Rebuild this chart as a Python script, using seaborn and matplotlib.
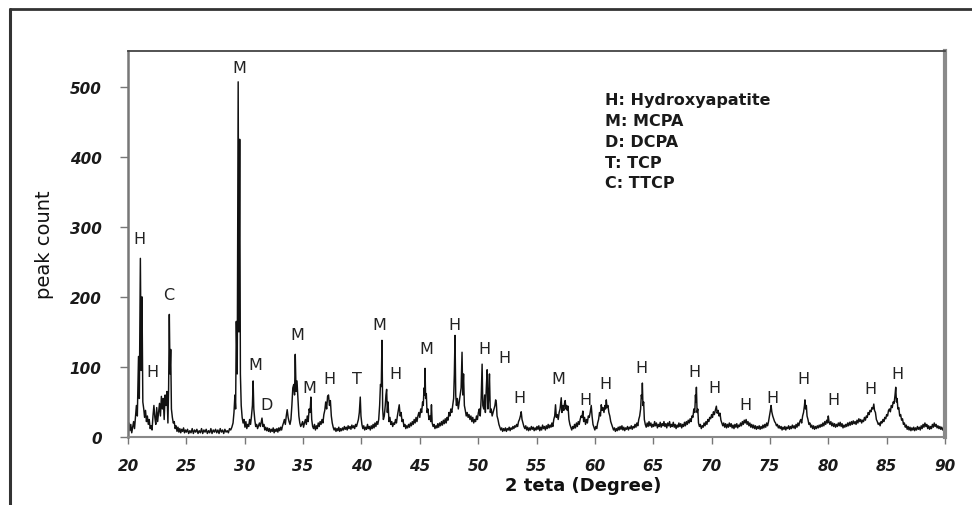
import numpy as np
import pandas as pd
import matplotlib
matplotlib.use("Agg")
import matplotlib.pyplot as plt
import seaborn as sns
from matplotlib.lines import Line2D

# ---------------- data (2-theta, peak count) ----------------
seg_20_25 = [(20.00,12),(20.08,20),(20.16,9),(20.24,18),(20.32,6),(20.40,14),(20.48,22),(20.56,12),(20.64,28),(20.72,45),
             (20.80,30),(20.90,115),(20.97,55),(21.06,255),(21.13,95),(21.20,200),(21.27,50),(21.35,40),(21.42,28),(21.50,38),
             (21.58,22),(21.66,30),(21.74,18),(21.82,25),(21.90,12),(21.98,16),(22.06,10),(22.14,30),(22.22,45),(22.30,28),
             (22.38,18),(22.46,42),(22.54,22),(22.62,35),(22.70,48),(22.78,30),(22.86,58),(22.94,40),(23.02,55),(23.10,25),
             (23.18,60),(23.26,45),(23.34,65),(23.42,20),(23.48,70),(23.54,175),(23.60,90),(23.66,125),(23.72,40),(23.80,28),
             (23.88,20),(23.96,22),(24.04,12),(24.12,16),(24.20,8),(24.28,14),(24.36,7),(24.44,12),(24.52,6),(24.60,11),
             (24.68,8),(24.76,13),(24.84,6),(24.92,10)]
seg_25_30 = [(25.00,7),(25.10,11),(25.20,5),(25.30,9),(25.40,6),(25.50,12),(25.60,5),(25.70,10),(25.80,7),(25.90,11),
             (26.00,5),(26.10,9),(26.20,6),(26.30,12),(26.40,5),(26.50,10),(26.60,7),(26.70,11),(26.80,5),(26.90,9),
             (27.00,6),(27.10,12),(27.20,5),(27.30,10),(27.40,7),(27.50,11),(27.60,6),(27.70,10),(27.80,5),(27.90,12),
             (28.00,7),(28.10,10),(28.20,5),(28.30,11),(28.40,7),(28.50,9),(28.60,6),(28.70,12),(28.80,10),(28.90,14),
             (29.00,20),(29.08,35),(29.16,60),(29.22,40),(29.28,165),(29.36,90),(29.44,507),(29.50,150),(29.57,425),(29.63,90),
             (29.70,45),(29.78,28),(29.86,20),(29.94,25)]
seg_30_35 = [(30.02,14),(30.10,22),(30.18,12),(30.26,18),(30.34,15),(30.42,25),(30.50,18),(30.58,30),(30.66,45),(30.72,80),
             (30.78,40),(30.86,25),(30.94,15),(31.02,18),(31.10,12),(31.18,16),(31.26,20),(31.34,15),(31.42,22),(31.48,27),
             (31.56,15),(31.64,18),(31.72,10),(31.80,14),(31.88,9),(31.96,13),(32.04,8),(32.12,12),(32.20,7),(32.28,11),
             (32.36,8),(32.44,13),(32.52,6),(32.60,11),(32.68,8),(32.76,12),(32.84,7),(32.92,13),(33.00,9),(33.08,14),
             (33.16,10),(33.24,16),(33.32,20),(33.40,25),(33.48,18),(33.56,30),(33.64,39),(33.72,28),(33.80,22),(33.88,18),
             (33.96,25),(34.04,45),(34.12,70),(34.20,75),(34.27,60),(34.33,118),(34.40,65),(34.48,80),(34.56,55),(34.64,30),
             (34.72,20),(34.80,15),(34.88,18),(34.96,22)]
seg_35_40 = [(35.04,14),(35.12,20),(35.20,25),(35.28,18),(35.36,30),(35.44,22),(35.52,40),(35.60,35),(35.67,57),(35.74,25),
             (35.82,15),(35.90,12),(35.98,18),(36.06,10),(36.14,16),(36.22,12),(36.30,20),(36.38,15),(36.46,22),(36.54,18),
             (36.62,25),(36.70,20),(36.78,32),(36.86,38),(36.94,50),(37.02,40),(37.10,58),(37.18,60),(37.26,45),(37.34,52),
             (37.42,30),(37.50,20),(37.58,14),(37.66,10),(37.74,13),(37.82,8),(37.90,12),(37.98,9),(38.06,14),(38.14,8),
             (38.22,12),(38.30,9),(38.38,13),(38.46,10),(38.54,15),(38.62,11),(38.70,14),(38.78,10),(38.86,16),(38.94,12),
             (39.02,15),(39.10,11),(39.18,17),(39.26,13),(39.34,16),(39.42,12),(39.50,18),(39.58,15),(39.66,20),(39.74,25),
             (39.82,35),(39.90,57),(39.96,30),(40.04,18)]
seg_40_45 = [(40.12,12),(40.20,16),(40.28,10),(40.36,14),(40.44,11),(40.52,18),(40.60,12),(40.68,15),(40.76,10),(40.84,16),
             (40.92,12),(41.00,18),(41.08,13),(41.16,20),(41.24,15),(41.32,22),(41.40,18),(41.48,25),(41.56,45),(41.63,75),
             (41.70,72),(41.76,138),(41.82,40),(41.88,25),(41.96,30),(42.04,45),(42.10,60),(42.16,68),(42.22,35),(42.28,50),
             (42.36,22),(42.44,28),(42.52,18),(42.60,22),(42.68,15),(42.76,20),(42.84,18),(42.92,25),(43.00,20),(43.08,30),
             (43.16,38),(43.24,46),(43.32,30),(43.40,35),(43.48,22),(43.56,25),(43.64,15),(43.72,18),(43.80,12),(43.88,16),
             (43.96,13),(44.04,18),(44.12,14),(44.20,20),(44.28,16),(44.36,22),(44.44,18),(44.52,25),(44.60,20),(44.68,28),
             (44.76,22),(44.84,30),(44.92,35)]
seg_45_50 = [(45.00,28),(45.08,40),(45.16,35),(45.24,50),(45.30,45),(45.36,70),(45.41,60),(45.45,98),(45.50,55),(45.56,62),
             (45.62,35),(45.70,40),(45.78,25),(45.86,30),(45.94,22),(46.00,46),(46.06,20),(46.14,15),(46.22,18),(46.30,12),
             (46.38,16),(46.46,13),(46.54,19),(46.62,14),(46.70,20),(46.78,16),(46.86,22),(46.94,17),(47.02,24),(47.10,19),
             (47.18,26),(47.26,20),(47.34,28),(47.42,24),(47.50,35),(47.58,30),(47.66,40),(47.74,35),(47.82,45),(47.90,55),
             (47.96,90),(48.02,145),(48.08,60),(48.14,45),(48.22,55),(48.30,40),(48.38,50),(48.46,60),(48.54,70),(48.62,121),
             (48.68,60),(48.75,90),(48.82,45),(48.90,38),(48.98,30),(49.06,35),(49.14,28),(49.22,32),(49.30,25),(49.38,30),
             (49.46,22),(49.54,28),(49.62,20),(49.70,25),(49.78,22),(49.86,30),(49.94,25)]
seg_50_55 = [(50.02,35),(50.10,40),(50.18,30),(50.26,55),(50.34,104),(50.40,45),(50.48,40),(50.56,60),(50.62,35),(50.70,70),
             (50.77,96),(50.84,40),(50.90,55),(50.97,90),(51.04,35),(51.12,40),(51.20,30),(51.28,35),(51.36,40),(51.44,45),
             (51.50,53),(51.56,48),(51.62,30),(51.70,25),(51.78,18),(51.86,14),(51.94,10),(52.02,13),(52.10,8),(52.18,12),
             (52.26,9),(52.34,13),(52.42,8),(52.50,12),(52.58,10),(52.66,14),(52.74,9),(52.82,13),(52.90,11),(52.98,15),
             (53.06,12),(53.14,16),(53.22,14),(53.30,18),(53.38,15),(53.46,22),(53.54,25),(53.62,30),(53.69,36),(53.76,25),
             (53.84,20),(53.92,15),(54.00,12),(54.08,16),(54.16,10),(54.24,14),(54.32,9),(54.40,13),(54.48,10),(54.56,15),
             (54.64,11),(54.72,14),(54.80,9),(54.88,13),(54.96,10)]
seg_55_60 = [(55.04,15),(55.12,11),(55.20,16),(55.28,9),(55.36,14),(55.44,10),(55.52,17),(55.60,12),(55.68,15),(55.76,10),
             (55.84,16),(55.92,12),(56.00,18),(56.08,13),(56.16,17),(56.24,14),(56.32,20),(56.40,15),(56.48,25),(56.56,30),
             (56.63,46),(56.70,28),(56.78,32),(56.86,25),(56.94,35),(57.02,40),(57.08,50),(57.12,56),(57.18,35),(57.26,45),
             (57.34,38),(57.40,48),(57.46,52),(57.52,40),(57.58,45),(57.64,38),(57.70,44),(57.78,25),(57.86,18),(57.94,14),
             (58.02,10),(58.10,15),(58.18,12),(58.26,18),(58.34,13),(58.42,20),(58.50,15),(58.58,22),(58.66,18),(58.74,25),
             (58.82,30),(58.90,28),(58.97,37),(59.04,22),(59.12,28),(59.20,18),(59.28,25),(59.36,20),(59.44,30),(59.52,28),
             (59.60,35),(59.69,45),(59.76,30),(59.84,18),(59.92,14)]
seg_60_65 = [(60.00,10),(60.08,15),(60.16,12),(60.24,20),(60.32,25),(60.40,35),(60.48,30),(60.55,46),(60.62,38),(60.70,42),
             (60.78,35),(60.86,45),(60.92,40),(60.98,53),(61.04,42),(61.12,45),(61.20,35),(61.28,30),(61.36,22),(61.44,18),
             (61.52,14),(61.60,10),(61.68,13),(61.76,8),(61.84,12),(61.92,9),(62.00,14),(62.08,10),(62.16,15),(62.24,11),
             (62.32,16),(62.40,10),(62.48,14),(62.56,9),(62.64,13),(62.72,11),(62.80,15),(62.88,10),(62.96,14),(63.04,12),
             (63.12,16),(63.20,11),(63.28,15),(63.36,13),(63.44,18),(63.52,14),(63.60,20),(63.68,16),(63.76,25),(63.84,30),
             (63.92,40),(63.98,60),(64.04,55),(64.07,77),(64.12,45),(64.18,50),(64.24,25),(64.32,18),(64.40,14),(64.48,20),
             (64.56,15),(64.64,22),(64.72,16),(64.80,20),(64.88,14),(64.96,18)]
seg_65_70 = [(65.04,15),(65.12,22),(65.20,16),(65.28,20),(65.36,13),(65.44,18),(65.52,15),(65.60,21),(65.68,14),(65.76,19),
             (65.84,16),(65.92,22),(66.00,15),(66.08,19),(66.16,13),(66.24,20),(66.32,16),(66.40,22),(66.48,14),(66.56,18),
             (66.64,15),(66.72,21),(66.80,14),(66.88,18),(66.96,12),(67.04,17),(67.12,14),(67.20,20),(67.28,15),(67.36,19),
             (67.44,13),(67.52,18),(67.60,15),(67.68,21),(67.76,16),(67.84,22),(67.92,18),(68.00,24),(68.08,20),(68.16,26),
             (68.24,22),(68.32,30),(68.40,28),(68.48,40),(68.56,35),(68.62,60),(68.66,50),(68.70,71),(68.76,35),(68.82,40),
             (68.88,20),(68.96,15),(69.04,18),(69.12,12),(69.20,16),(69.28,14),(69.36,20),(69.44,16),(69.52,22),(69.60,18),
             (69.68,25),(69.76,22),(69.84,28),(69.92,26)]
seg_70_75 = [(70.00,32),(70.08,28),(70.16,36),(70.24,32),(70.32,38),(70.41,44),(70.48,34),(70.56,38),(70.64,30),(70.72,34),
             (70.80,24),(70.88,20),(70.96,16),(71.04,20),(71.12,14),(71.20,19),(71.28,13),(71.36,18),(71.44,14),(71.52,20),
             (71.60,15),(71.68,19),(71.76,13),(71.84,17),(71.92,12),(72.00,18),(72.08,14),(72.16,19),(72.24,13),(72.32,17),
             (72.40,15),(72.48,20),(72.56,16),(72.64,22),(72.72,18),(72.80,24),(72.88,20),(72.96,25),(73.04,18),(73.12,22),
             (73.20,16),(73.28,20),(73.36,14),(73.44,18),(73.52,13),(73.60,17),(73.68,12),(73.76,16),(73.84,11),(73.92,15),
             (74.00,12),(74.08,16),(74.16,11),(74.24,15),(74.32,12),(74.40,17),(74.48,13),(74.56,18),(74.64,14),(74.72,20),
             (74.80,16),(74.88,22),(74.96,30)]
seg_75_80 = [(75.04,38),(75.10,45),(75.16,36),(75.24,30),(75.32,26),(75.40,22),(75.48,20),(75.56,16),(75.64,18),(75.72,13),
             (75.80,16),(75.88,12),(75.96,15),(76.04,10),(76.12,14),(76.20,11),(76.28,15),(76.36,10),(76.44,14),(76.52,12),
             (76.60,16),(76.68,11),(76.76,15),(76.84,12),(76.92,17),(77.00,13),(77.08,16),(77.16,12),(77.24,18),(77.32,14),
             (77.40,20),(77.48,16),(77.56,22),(77.64,25),(77.72,20),(77.80,30),(77.88,35),(77.96,45),(78.00,53),(78.06,40),
             (78.12,45),(78.18,30),(78.26,25),(78.34,18),(78.42,20),(78.50,14),(78.58,17),(78.66,12),(78.74,16),(78.82,11),
             (78.90,15),(78.98,12),(79.06,16),(79.14,13),(79.22,17),(79.30,14),(79.38,18),(79.46,15),(79.54,20),(79.62,16),
             (79.70,22),(79.78,18),(79.86,24),(79.94,20)]
seg_80_85 = [(80.00,30),(80.06,22),(80.14,18),(80.22,22),(80.30,16),(80.38,20),(80.46,15),(80.54,19),(80.62,14),(80.70,18),
             (80.78,15),(80.86,20),(80.94,16),(81.02,21),(81.10,15),(81.18,19),(81.26,13),(81.34,17),(81.42,14),(81.50,18),
             (81.58,15),(81.66,20),(81.74,16),(81.82,21),(81.90,17),(81.98,22),(82.06,18),(82.14,23),(82.22,19),(82.30,22),
             (82.38,18),(82.46,24),(82.54,20),(82.62,26),(82.70,22),(82.78,25),(82.86,20),(82.94,24),(83.02,22),(83.10,28),
             (83.18,24),(83.26,30),(83.34,28),(83.42,35),(83.50,32),(83.58,38),(83.66,36),(83.74,42),(83.82,40),(83.90,47),
             (83.96,38),(84.04,35),(84.12,25),(84.20,22),(84.28,18),(84.36,20),(84.44,16),(84.52,22),(84.60,20),(84.68,25),
             (84.76,22),(84.84,28),(84.92,26)]
seg_85_90 = [(85.00,32),(85.08,30),(85.16,38),(85.24,40),(85.32,36),(85.40,45),(85.48,42),(85.56,50),(85.64,48),(85.72,60),
             (85.78,71),(85.84,50),(85.90,55),(85.96,40),(86.04,42),(86.12,30),(86.20,32),(86.28,24),(86.36,26),(86.44,18),
             (86.52,20),(86.60,14),(86.68,17),(86.76,11),(86.84,15),(86.92,10),(87.00,14),(87.08,9),(87.16,13),(87.24,10),
             (87.32,14),(87.40,9),(87.48,13),(87.56,10),(87.64,15),(87.72,11),(87.80,14),(87.88,10),(87.96,16),(88.04,12),
             (88.12,18),(88.20,14),(88.28,20),(88.36,15),(88.44,18),(88.52,12),(88.60,16),(88.68,11),(88.76,15),(88.84,12),
             (88.92,18),(89.00,14),(89.08,20),(89.16,15),(89.24,18),(89.32,13),(89.40,16),(89.48,12),(89.56,15),(89.64,11),
             (89.72,14),(89.80,10),(89.88,13),(89.96,11)]

# phase labels over peaks
peak_labels  = ["H", "H", "C", "M", "M", "D", "M", "M", "H", "T", "M", "H", "M", "H", "H",
                "H", "H", "M", "H", "H", "H", "H", "H", "H", "H", "H", "H", "H", "H"]
peak_label_x = [21.0, 22.1, 23.5, 29.5, 30.9, 31.9, 34.5, 35.5, 37.25, 39.65, 41.5, 42.9, 45.55, 47.95, 50.5,
                52.25, 53.55, 56.9, 59.2, 60.9, 64.0, 68.55, 70.25, 72.9, 75.25, 77.9, 80.4, 83.65, 85.9]
peak_label_y = [283, 93, 203, 527, 104, 47, 146, 70, 83, 83, 160, 90, 126, 161, 126,
                114, 57, 83, 54, 76, 99, 93, 70, 47, 57, 83, 54, 69, 90]

legend_lines = ["H: Hydroxyapatite", "M: MCPA", "D: DCPA", "T: TCP", "C: TTCP"]
x_ticks = [20, 25, 30, 35, 40, 45, 50, 55, 60, 65, 70, 75, 80, 85, 90]
y_ticks = [0, 100, 200, 300, 400, 500]
x_label = "2 teta (Degree)"
y_label = "peak count"

# ---------------- styling ----------------
sns.set_theme(style="white")
plt.rcParams['font.family'] = ['DejaVu Sans']

segments = [seg_20_25, seg_25_30, seg_30_35, seg_35_40, seg_40_45, seg_45_50, seg_50_55,
            seg_55_60, seg_60_65, seg_65_70, seg_70_75, seg_75_80, seg_80_85, seg_85_90]
pts = [p for seg in segments for p in seg]
df = pd.DataFrame(pts, columns=["two_theta", "count"])

W, H = 972, 506
fig = plt.figure(figsize=(W / 100, H / 100), dpi=100)
fig.patch.set_facecolor("white")
ax = fig.add_axes([128 / W, (H - 438) / H, (945 - 128) / W, (438 - 52) / H])

sns.lineplot(data=df, x="two_theta", y="count", ax=ax, color="#111111",
             linewidth=1.05, estimator=None, sort=False, legend=False)

ax.set_xlim(20, 90)
ax.set_ylim(0, 551)
ax.set_xticks(x_ticks)
ax.set_yticks(y_ticks)
ax.set_xticklabels([str(t) for t in x_ticks])
ax.set_yticklabels([str(t) for t in y_ticks])

ax.tick_params(axis="y", direction="out", length=6, width=1, color="#777777",
               pad=13, labelsize=11, labelcolor="#1a1a1a", left=True)
ax.tick_params(axis="x", direction="out", length=5, width=1, color="#777777",
               pad=10, labelsize=11, labelcolor="#1a1a1a", bottom=True)
for lab in ax.get_xticklabels() + ax.get_yticklabels():
    lab.set_fontweight("bold")
    lab.set_fontstyle("italic")

ax.spines["top"].set_color("#444444")
ax.spines["top"].set_linewidth(1.3)
ax.spines["left"].set_color("#777777")
ax.spines["left"].set_linewidth(1.8)
ax.spines["right"].set_color("#8a8a8a")
ax.spines["right"].set_linewidth(3)
ax.spines["bottom"].set_color("#888888")
ax.spines["bottom"].set_linewidth(1.5)

ax.set_xlabel(x_label, fontsize=13, fontweight="bold", color="#111111", va="top")
ax.xaxis.set_label_coords((583 - 128) / 817, -(477 - 438) / 386)
ax.set_ylabel(y_label, fontsize=14, color="#111111", va="center")
ax.yaxis.set_label_coords((44 - 128) / 817, (438 - 245) / 386)

for t, x, y in zip(peak_labels, peak_label_x, peak_label_y):
    ax.text(x, y, t, ha="center", va="center", fontsize=11.5, color="#222222")

for i, line in enumerate(legend_lines):
    ax.text((605 - 128) / 817, (438 - 101 - i * 20.7) / 386, line, transform=ax.transAxes,
            ha="left", va="center", fontsize=11.5, fontweight="bold", color="#1a1a1a")

# outer frame of the figure (top and left edges)
fig.add_artist(Line2D([10 / W, 1.0], [1 - 10 / H, 1 - 10 / H], transform=fig.transFigure,
                      color="#333333", linewidth=2))
fig.add_artist(Line2D([10 / W, 10 / W], [0.0, 1 - 10 / H], transform=fig.transFigure,
                      color="#333333", linewidth=2.2))

fig.savefig("out.png", dpi=100, facecolor="white")
